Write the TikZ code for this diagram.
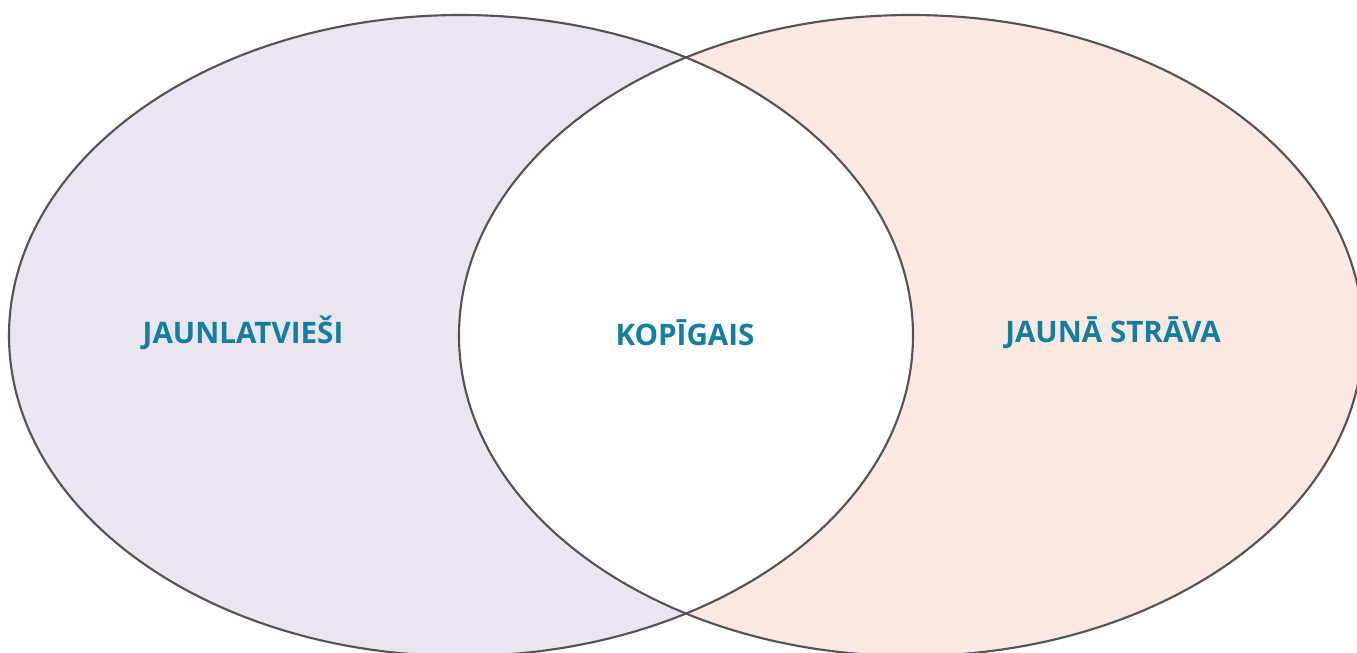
\documentclass[tikz,border=0pt]{standalone}
\usepackage{fontspec}
\setmainfont{Open Sans}
\definecolor{leftfill}{HTML}{EAE5EE}
\definecolor{rightfill}{HTML}{FCE8E3}
\definecolor{stroke}{HTML}{555355}
\definecolor{labelc}{HTML}{137F9F}
\tikzset{
  lbl/.style={text=labelc, font=\fontsize{22.2}{26}\selectfont\bfseries, inner sep=0pt},
  ring/.style={draw=stroke, line width=1.6pt}
}
\begin{document}
\begin{tikzpicture}[x=0.75pt,y=-0.75pt]
\useasboundingbox (0,0) rectangle (1357,653);
\begin{scope}
\clip (0,0) rectangle (1357,653);
\fill[leftfill] (461,335.5) ellipse [x radius=452, y radius=320.5];
\fill[rightfill] (911,335.5) ellipse [x radius=452, y radius=320.5];
\begin{scope}
\clip (461,335.5) ellipse [x radius=452, y radius=320.5];
\fill[white] (911,335.5) ellipse [x radius=452, y radius=320.5];
\end{scope}
\draw[ring] (461,335.5) ellipse [x radius=452, y radius=320.5];
\draw[ring] (911,335.5) ellipse [x radius=452, y radius=320.5];
\end{scope}
\node[lbl] (a) at (243,333) {JAUNLATVIEŠI};
\node[lbl] (b) at (685,333) {KOPĪGAIS};
\node[lbl] (c) at (1113,333) {JAUNĀ STRĀVA};
\end{tikzpicture}
\end{document}
